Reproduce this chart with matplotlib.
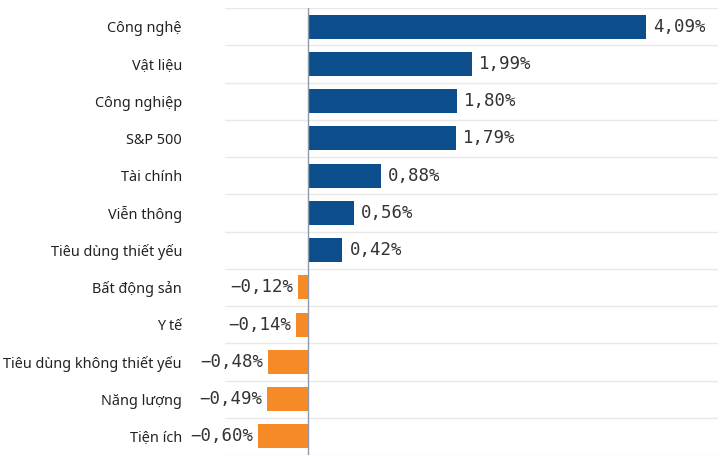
import matplotlib
matplotlib.use('Agg')
import matplotlib.pyplot as plt
import numpy as np

# sector performance, top to bottom as in the chart
sectors = ['Công nghệ', 'Vật liệu', 'Công nghiệp', 'S&P 500', 'Tài chính',
           'Viễn thông', 'Tiêu dùng thiết yếu', 'Bất động sản', 'Y tế',
           'Tiêu dùng không thiết yếu', 'Năng lượng', 'Tiện ích']
changes = [4.09, 1.99, 1.80, 1.79, 0.88, 0.56, 0.42,
           -0.12, -0.14, -0.48, -0.49, -0.60]

blue = '#0c4d8b'
orange = '#f68a26'

fig = plt.figure(figsize=(7.18, 4.55), dpi=100)
ax = fig.add_axes([225 / 718, 0.0, 1 - 225 / 718, 1 - 8 / 455])

y_pos = np.arange(len(sectors))
colors = [blue if v >= 0 else orange for v in changes]
ax.barh(y_pos, changes, height=0.64, color=colors, edgecolor='none', zorder=3)

ax.set_ylim(len(sectors) - 0.5, -0.5)
ax.set_xlim(-1.0, 4.96)

# row separators
for b in np.arange(-0.5, len(sectors), 1):
    ax.axhline(b, color='#e9e9e9', lw=1, zorder=1)
ax.axvline(0, color='#8c9aab', lw=1, zorder=4)

ax.set_yticks(y_pos)
ax.set_yticklabels(sectors, fontsize=10.4, color='#222222', family='Noto Sans')
ax.tick_params(axis='y', length=0, pad=31)
ax.set_xticks([])
for s in ax.spines.values():
    s.set_visible(False)

for y, v in zip(y_pos, changes):
    txt = '{:.2f}%'.format(v).replace('.', ',').replace('-', '\u2212')
    if v >= 0:
        ax.annotate(txt, (v, y), xytext=(5, 0), textcoords='offset points',
                    ha='left', va='center', fontsize=12.5, family='DejaVu Sans Mono',
                    color='#333333')
    else:
        ax.annotate(txt, (v, y), xytext=(-3.6, 0), textcoords='offset points',
                    ha='right', va='center', fontsize=12.5, family='DejaVu Sans Mono',
                    color='#333333')

plt.savefig('out.png', dpi=100)
